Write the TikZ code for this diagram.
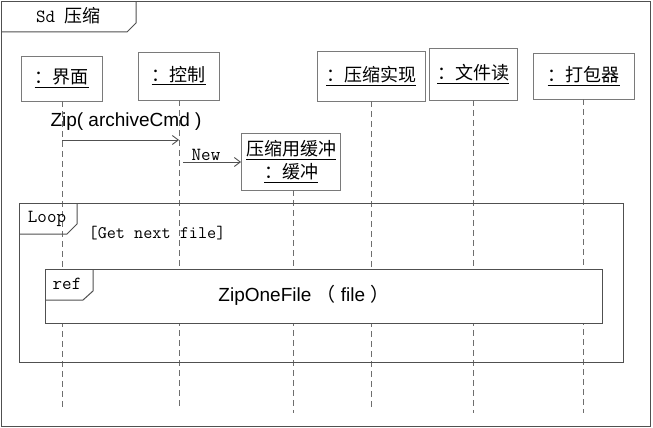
\documentclass[tikz,border=0pt]{standalone}
\usepackage{fontspec}
\setmainfont{Liberation Serif}
\newfontfamily\cjk{Noto Sans CJK SC}
\newcommand\simlat{\ttfamily}
\newfontfamily\arial{Liberation Sans}
\usetikzlibrary{arrows.meta}
\definecolor{boxgray}{HTML}{7A7A7A}
\definecolor{linegray}{HTML}{6E6E6E}
\definecolor{framegray}{HTML}{505050}
\tikzset{
  obj/.style={draw=boxgray, line width=0.9pt, fill=white, align=center, inner sep=0pt,
    font=\cjk\fontsize{18}{24}\selectfont},
  lifeline/.style={draw=linegray, line width=1pt, dash pattern=on 6pt off 4pt},
  msg/.style={draw=framegray, line width=0.9pt, -{Straight Barb[length=6pt,width=9pt,line width=0.9pt]}},
  frameline/.style={draw=framegray, line width=1pt},
  lat/.style={font=\simlat\fontsize{18.5}{20}\selectfont, inner sep=0pt},
  sans/.style={font=\arial\fontsize{19}{21}\selectfont, inner sep=0pt},
}
\begin{document}
\begin{tikzpicture}[x=1pt,y=-1pt]
\useasboundingbox (0,0) rectangle (653,428);
% outer frame
\draw[frameline] (1.5,1.5) rectangle (650.5,426.5);
\draw[frameline] (1.5,32) -- (127,32) -- (136,23) -- (136,1.5);
\node[inner sep=0pt, anchor=west] (title) at (36,16) {{\simlat\fontsize{18.5}{20}\selectfont Sd}\hspace{9pt}{\cjk\fontsize{18}{20}\selectfont 压缩}};

% lifeline heads
\node[obj, minimum width=81pt, minimum height=45pt] (o1) at (61.5,78.5) {\underline{：界面}};
\node[obj, minimum width=81pt, minimum height=48pt] (o2) at (178.5,76) {\underline{：控制}};
\node[obj, minimum width=108pt, minimum height=50pt] (o3) at (371,76) {\underline{：压缩实现}};
\node[obj, minimum width=88pt, minimum height=52pt] (o4) at (473,74) {\underline{：文件读}};
\node[obj, minimum width=101pt, minimum height=46pt] (o5) at (583.5,76) {\underline{：打包器}};
\node[obj, minimum width=99pt, minimum height=57pt] (o6) at (291,161.5) {\underline{压缩用缓冲}\\[-1pt]\underline{：缓冲}};

% lifeline ends
\coordinate (e1) at (62,407);
\coordinate (e2) at (179,407);
\coordinate (e3) at (371,407);
\coordinate (e4) at (473,413);
\coordinate (e5) at (583,413);
\coordinate (e6) at (293,413);

\draw[lifeline] (o1.south -| e1) -- (e1);
\draw[lifeline] (o2.south -| e2) -- (e2);
\draw[lifeline] (o3.south -| e3) -- (e3);
\draw[lifeline] (o4.south -| e4) -- (e4);
\draw[lifeline] (o5.south -| e5) -- (e5);
\draw[lifeline] (o6.south -| e6) -- (e6);

% loop frame
\draw[frameline] (19,203) rectangle (623,362);
\draw[frameline] (19,234) -- (67,234) -- (77,224) -- (77,203);
\node[lat] (looplab) at (47,219) {Loop};
\node[lat, font=\simlat\fontsize{17.7}{20}\selectfont] (guard) at (157,233) {[Get next file]};

% ref frame
\filldraw[frameline, fill=white] (45,269) rectangle (602,323);
\draw[frameline] (45,300) -- (83,300) -- (93,291) -- (93,269);
\node[lat] (reflab) at (67,284) {ref};
\node[sans] (refname) at (304,295) {ZipOneFile {\cjk （} file {\cjk ）}};

% messages
\coordinate (m1a) at (62,140);
\coordinate (m1b) at (179,140);
\draw[msg] (m1a) -- (m1b);
\node[sans] (m1lab) at (126,122) {Zip( archiveCmd )};

\coordinate (m2a) at (183,162);
\draw[msg] (m2a) -- (o6.west |- m2a);
\node[lat] (m2lab) at (206,155) {New};
\end{tikzpicture}
\end{document}
